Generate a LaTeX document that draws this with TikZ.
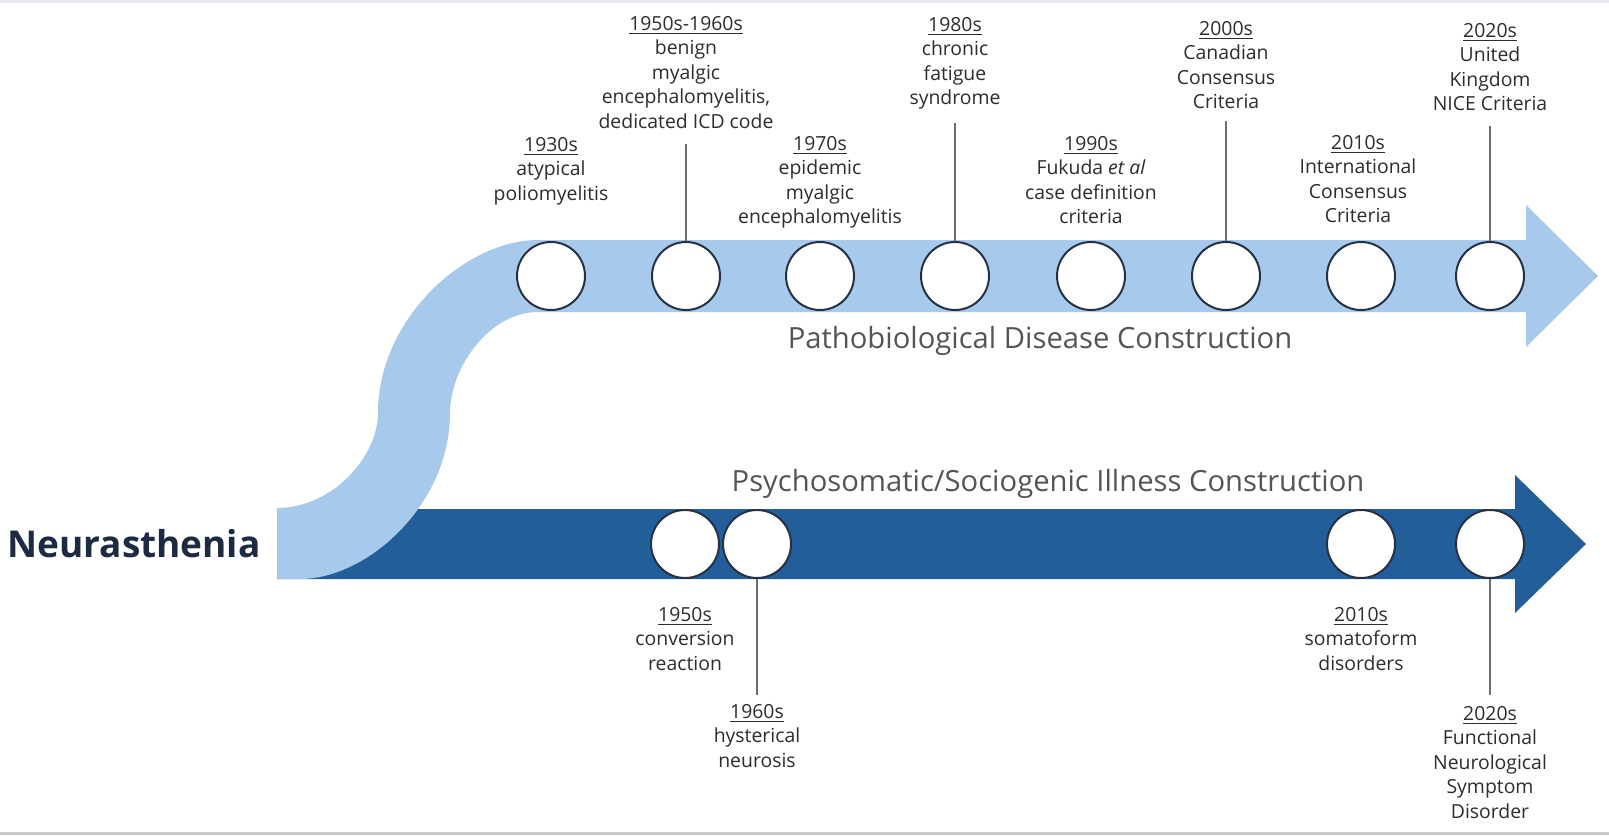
\documentclass[tikz,border=0pt]{standalone}
\usepackage{fontspec}
\setmainfont{Open Sans}
\usetikzlibrary{calc}
\definecolor{lightband}{RGB}{166,201,236}
\definecolor{darkband}{RGB}{34,94,154}
\definecolor{ringcol}{RGB}{38,50,66}
\definecolor{linecol}{RGB}{110,110,110}
\definecolor{labelcol}{RGB}{45,45,45}
\definecolor{titlecol}{RGB}{85,85,85}
\definecolor{navy}{RGB}{28,42,66}
\definecolor{topstrip}{RGB}{232,234,242}
\definecolor{botstrip}{RGB}{200,200,200}
\begin{document}
\begin{tikzpicture}[x=0.5pt,y=-0.5pt,
  dot/.style={circle,draw=ringcol,line width=1pt,fill=white,minimum size=34pt,inner sep=0pt},
  lab/.style={align=center,anchor=north,font=\fontsize{9.7}{12.25}\selectfont,text=labelcol,inner sep=0pt},
  conn/.style={draw=linecol,line width=0.75pt},
  title/.style={font=\fontsize{14.6}{17}\selectfont,text=titlecol,inner sep=0pt},
  headline/.style={font=\fontsize{18.5}{22}\selectfont\bfseries,text=navy,inner sep=0pt}]
\useasboundingbox (0,0) rectangle (1609,835);
\fill[white] (0,0) rectangle (1609,835);
\fill[topstrip] (0,0) rectangle (1609,3);
\fill[botstrip] (0,832) rectangle (1609,835);

% dark lower arrow
\fill[darkband] (277,509) -- (1515,509) -- (1515,475) -- (1586,544) -- (1515,613) -- (1515,579) -- (277,579) -- cycle;

% light upper S-shaped arrow
\fill[lightband] (277,508) .. controls (333,508) and (378,456) .. (378,413)
  .. controls (378,318) and (466,240) .. (538,240)
  -- (1526,240) -- (1526,205) -- (1598,276) -- (1526,347) -- (1526,312)
  -- (538,312) .. controls (489,312) and (450,368) .. (450,413)
  .. controls (450,505) and (367,579) .. (300,579) -- (277,579) -- cycle;

% upper circles
\node[dot] (c1) at (551,276) {};
\node[dot] (c2) at (686,276) {};
\node[dot] (c3) at (820,276) {};
\node[dot] (c4) at (955,276) {};
\node[dot] (c5) at (1091,276) {};
\node[dot] (c6) at (1226,276) {};
\node[dot] (c7) at (1361,276) {};
\node[dot] (c8) at (1490,276) {};

% lower circles
\node[dot] (d1) at (685,544) {};
\node[dot] (d2) at (757,544) {};
\node[dot] (d3) at (1361,544) {};
\node[dot] (d4) at (1490,544) {};

% upper labels
\node[lab] (L1) at (551,136.6) {\underline{1930s}\\atypical\\poliomyelitis};
\node[lab] (L2) at (686,15.6) {\underline{1950s-1960s}\\benign\\myalgic\\encephalomyelitis,\\dedicated ICD code};
\node[lab] (L3) at (820,135.6) {\underline{1970s}\\epidemic\\myalgic\\encephalomyelitis};
\node[lab] (L4) at (955,16.6) {\underline{1980s}\\chronic\\fatigue\\syndrome};
\node[lab] (L5) at (1091,135.6) {\underline{1990s}\\Fukuda \textit{et al}\\case definition\\criteria};
\node[lab] (L6) at (1226,20.7) {\underline{2000s}\\Canadian\\Consensus\\Criteria};
\node[lab] (L7) at (1358,134.6) {\underline{2010s}\\International\\Consensus\\Criteria};
\node[lab] (L8) at (1490,22.8) {\underline{2020s}\\United\\Kingdom\\NICE Criteria};

% lower labels
\node[lab] (B1) at (685,606.6) {\underline{1950s}\\conversion\\reaction};
\node[lab] (B2) at (757,704) {\underline{1960s}\\hysterical\\neurosis};
\node[lab] (B3) at (1361,606.6) {\underline{2010s}\\somatoform\\disorders};
\node[lab] (B4) at (1490,706) {\underline{2020s}\\Functional\\Neurological\\Symptom\\Disorder};

% connectors
\draw[conn,shorten >=7.75pt] (c2.north) -- (c2.north |- L2.south);
\draw[conn,shorten >=6.5pt] (c4.north) -- (c4.north |- L4.south);
\draw[conn,shorten >=6pt] (c6.north) -- (c6.north |- L6.south);
\draw[conn,shorten >=7.5pt] (c8.north) -- (c8.north |- L8.south);
\draw[conn,shorten >=4.5pt] (d2.south) -- (d2.south |- B2.north);
\draw[conn,shorten >=5.5pt] (d4.south) -- (d4.south |- B4.north);

% titles
\node[title] (T1) at (1040,341) {Pathobiological Disease Construction};
\node[title] (T2) at (1048,484) {Psychosomatic/Sociogenic Illness Construction};
\node[headline] (N) at (134,544) {Neurasthenia};
\end{tikzpicture}
\end{document}
